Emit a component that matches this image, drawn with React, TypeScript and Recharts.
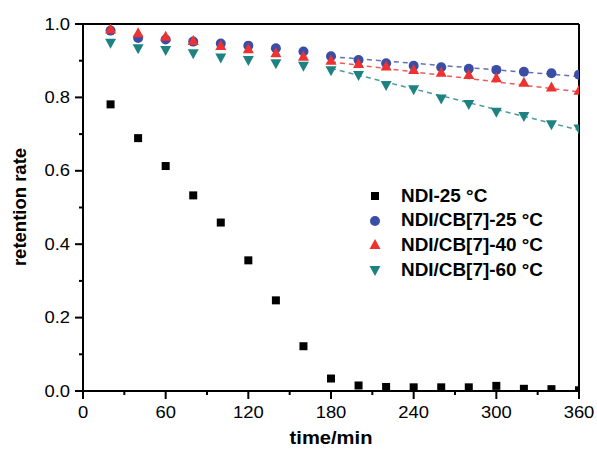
import { ComposedChart, Scatter, Line, XAxis, YAxis, ReferenceLine } from "recharts"

// time points (min)
const times = [20, 40, 60, 80, 100, 120, 140, 160, 180, 200, 220, 240, 260, 280, 300, 320, 340, 360]

// retention rate per series
const ndi25 = [0.781, 0.689, 0.613, 0.533, 0.459, 0.356, 0.247, 0.122, 0.034, 0.015, 0.011, 0.01, 0.01, 0.01, 0.014, 0.006, 0.005, 0.002]
const cb25 = [0.982, 0.962, 0.958, 0.952, 0.947, 0.941, 0.934, 0.925, 0.912, 0.902, 0.893, 0.886, 0.882, 0.878, 0.875, 0.87, 0.866, 0.862]
const cb40 = [0.985, 0.975, 0.965, 0.954, 0.94, 0.931, 0.92, 0.911, 0.9, 0.891, 0.884, 0.875, 0.867, 0.861, 0.852, 0.84, 0.827, 0.818]
const cb60 = [0.949, 0.934, 0.929, 0.92, 0.909, 0.902, 0.893, 0.886, 0.874, 0.861, 0.834, 0.822, 0.797, 0.782, 0.761, 0.749, 0.727, 0.715]

// linear fits over 180-360 min
const fitTimes = [180, 360]
const fitCb25 = [0.911, 0.857]
const fitCb40 = [0.897, 0.815]
const fitCb60 = [0.879, 0.711]

const xTicks = [0, 30, 60, 90, 120, 150, 180, 210, 240, 270, 300, 330, 360]
const yTicks = [0, 0.1, 0.2, 0.3, 0.4, 0.5, 0.6, 0.7, 0.8, 0.9, 1.0]

const BLACK = "#000"
const BLUE = "#3b4ea5"
const RED = "#ee3131"
const TEAL = "#1f8282"
const FONT = "'Liberation Sans', Arial, sans-serif"

const pts = (ys: number[]) => times.map((x, i) => ({ x, y: ys[i] }))
const fit = (ys: number[]) => fitTimes.map((x, i) => ({ x, y: ys[i] }))

const Square = ({ cx, cy }: any) => <rect x={cx - 4} y={cy - 4} width={8} height={8} fill={BLACK} />
const Dot = ({ cx, cy }: any) => <circle cx={cx} cy={cy} r={5} fill={BLUE} />
const Up = ({ cx, cy }: any) => (
  <polygon points={`${cx},${cy - 6} ${cx - 5.5},${cy + 4} ${cx + 5.5},${cy + 4}`} fill={RED} />
)
const Down = ({ cx, cy }: any) => (
  <polygon points={`${cx - 5.5},${cy - 4} ${cx + 5.5},${cy - 4} ${cx},${cy + 6}`} fill={TEAL} />
)

function YTick({ x, y, payload }: any) {
  const major = Math.round(payload.value * 10) % 2 === 0
  return (
    <g>
      <line x1={x - (major ? 8 : 4)} x2={x} y1={y} y2={y} stroke={BLACK} strokeWidth={2} />
      {major && (
        <text
          transform={`translate(${x - 13},${y}) scale(1.15,1)`}
          textAnchor="end"
          dominantBaseline="central"
          fontSize={16}
          fontFamily={FONT}
          fill={BLACK}
        >
          {payload.value.toFixed(1)}
        </text>
      )}
    </g>
  )
}

function XTick({ x, y, payload }: any) {
  const major = payload.value % 60 === 0
  return (
    <g>
      <line x1={x} x2={x} y1={y} y2={y + (major ? 8 : 4)} stroke={BLACK} strokeWidth={2} />
      {major && (
        <text
          transform={`translate(${x},${y + 21}) scale(1.15,1)`}
          textAnchor="middle"
          dominantBaseline="central"
          fontSize={16}
          fontFamily={FONT}
          fill={BLACK}
        >
          {payload.value}
        </text>
      )}
    </g>
  )
}

const legendRows = [
  { label: "NDI-25 °C", mark: <rect x={3} y={3} width={8} height={8} fill={BLACK} /> },
  { label: "NDI/CB[7]-25 °C", mark: <circle cx={7} cy={7} r={5} fill={BLUE} /> },
  { label: "NDI/CB[7]-40 °C", mark: <polygon points="7,1 1.5,11 12.5,11" fill={RED} /> },
  { label: "NDI/CB[7]-60 °C", mark: <polygon points="1.5,3 12.5,3 7,13" fill={TEAL} /> },
]

export default function App() {
  return (
    <div style={{ position: "absolute", left: 0, top: 0, width: 597, height: 453, background: "#fff" }}>
      <ComposedChart width={597} height={453} margin={{ top: 24, right: 18, left: 23, bottom: 22 }}>
        <XAxis
          type="number"
          dataKey="x"
          domain={[0, 360]}
          ticks={xTicks}
          interval={0}
          tickSize={0}
          tickMargin={0}
          tickLine={false}
          tick={<XTick />}
          axisLine={{ stroke: BLACK, strokeWidth: 2 }}
          height={40}
          allowDataOverflow
          label={{
            content: () => (
              <text
                transform="translate(331,438) scale(1.12,1)"
                textAnchor="middle"
                dominantBaseline="central"
                fontSize={18}
                fontWeight="bold"
                fontFamily={FONT}
                fill={BLACK}
              >
                time/min
              </text>
            ),
          }}
        />
        <YAxis
          type="number"
          dataKey="y"
          domain={[0, 1]}
          ticks={yTicks}
          interval={0}
          tickSize={0}
          tickMargin={0}
          tickLine={false}
          tick={<YTick />}
          axisLine={{ stroke: BLACK, strokeWidth: 2 }}
          width={60}
          allowDataOverflow
          label={{
            content: () => (
              <text
                transform="translate(19,207) rotate(-90)"
                textAnchor="middle"
                dominantBaseline="central"
                fontSize={18.5}
                fontWeight="bold"
                fontFamily={FONT}
                fill={BLACK}
              >
                retention rate
              </text>
            ),
          }}
        />
        <ReferenceLine y={1} stroke={BLACK} strokeWidth={2} />
        <ReferenceLine x={360} stroke={BLACK} strokeWidth={2} />
        <Line data={fit(fitCb25)} dataKey="y" type="linear" stroke={BLUE} strokeOpacity={0.8} strokeWidth={1.5} strokeDasharray="5 4" dot={false} isAnimationActive={false} />
        <Line data={fit(fitCb40)} dataKey="y" type="linear" stroke={RED} strokeOpacity={0.8} strokeWidth={1.5} strokeDasharray="5 4" dot={false} isAnimationActive={false} />
        <Line data={fit(fitCb60)} dataKey="y" type="linear" stroke={TEAL} strokeOpacity={0.8} strokeWidth={1.5} strokeDasharray="5 4" dot={false} isAnimationActive={false} />
        <Scatter data={pts(ndi25)} shape={Square} isAnimationActive={false} />
        <Scatter data={pts(cb25)} shape={Dot} isAnimationActive={false} />
        <Scatter data={pts(cb40)} shape={Up} isAnimationActive={false} />
        <Scatter data={pts(cb60)} shape={Down} isAnimationActive={false} />
      </ComposedChart>
      {legendRows.map((r, i) => (
        <div key={r.label} style={{ position: "absolute", left: 368, top: 196 + i * 24.7 - 12, height: 24, display: "flex", alignItems: "center" }}>
          <svg width={14} height={14} style={{ display: "block" }}>
            {r.mark}
          </svg>
          <span
            style={{
              marginLeft: 19,
              fontFamily: FONT,
              fontWeight: "bold",
              fontSize: 17.5,
              transform: "scaleX(1.08)",
              transformOrigin: "left center",
              whiteSpace: "nowrap",
              color: BLACK,
            }}
          >
            {r.label}
          </span>
        </div>
      ))}
    </div>
  )
}
